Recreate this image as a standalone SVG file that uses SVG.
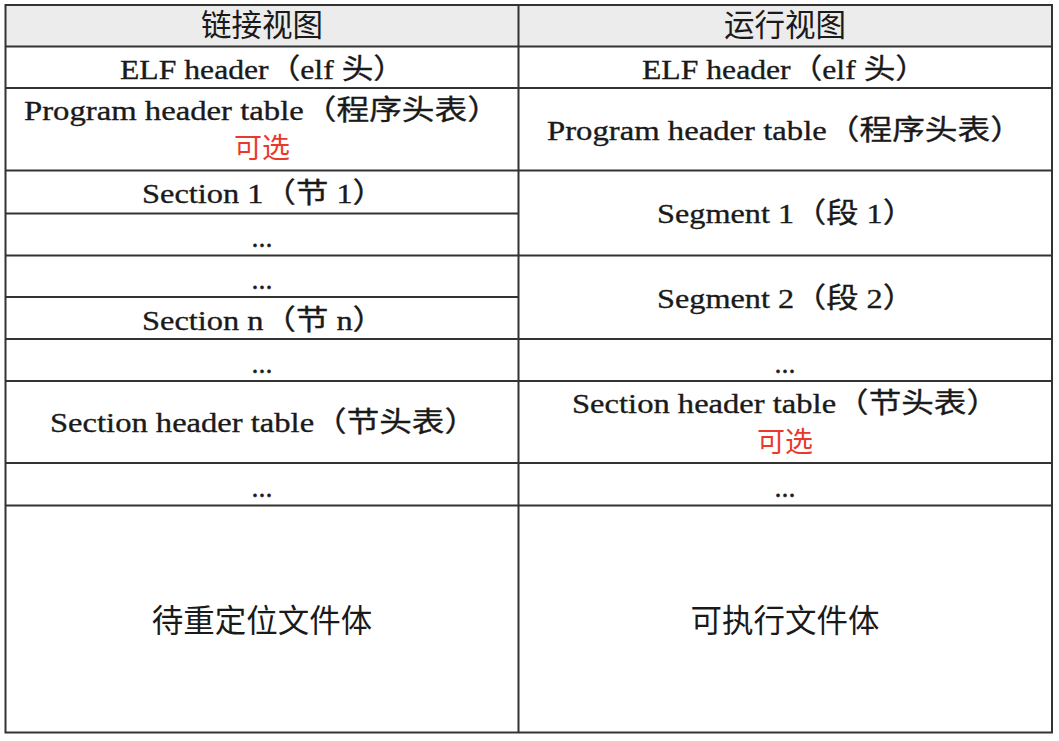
<svg xmlns="http://www.w3.org/2000/svg" width="1059" height="741" viewBox="0 0 1059 741">
<style>
.t{font-family:"Liberation Serif","Noto Sans CJK SC",serif;font-size:28px;fill:#1a1a1a;stroke:#1a1a1a;stroke-width:0.35}
.m{text-anchor:middle}
.h{font-family:"Noto Sans CJK SC",sans-serif;font-size:30.5px;fill:#1a1a1a;text-anchor:middle}
.b{font-family:"Noto Sans CJK SC",sans-serif;font-size:31.5px;fill:#1a1a1a;text-anchor:middle}
.r{font-family:"Noto Sans CJK SC",sans-serif;font-size:28px;fill:#e8392c;text-anchor:middle}
.ln{stroke:#333;stroke-width:2;fill:none}
</style>
<rect x="0" y="0" width="1059" height="741" fill="#fff"/>
<g id="header">
<rect x="5.5" y="5" width="1046.5" height="41.5" fill="#ececec"/>
<text class="h" x="262" y="36">链接视图</text>
<text class="h" x="785" y="36">运行视图</text>
</g>
<g id="elf-header">
<text class="t" x="120" y="79" textLength="285" lengthAdjust="spacingAndGlyphs">ELF header（elf 头）</text>
<text class="t" x="642" y="79" textLength="285" lengthAdjust="spacingAndGlyphs">ELF header（elf 头）</text>
</g>
<g id="program-header-table">
<text class="t" x="24" y="120" textLength="476" lengthAdjust="spacingAndGlyphs">Program header table（程序头表）</text>
<text class="r" x="262" y="158">可选</text>
<text class="t" x="547" y="140" textLength="476" lengthAdjust="spacingAndGlyphs">Program header table（程序头表）</text>
</g>
<g id="section-1"><text class="t" x="142" y="203" textLength="243" lengthAdjust="spacingAndGlyphs">Section 1（节 1）</text></g>
<g id="dots-l1"><text class="t m" x="262" y="247">...</text></g>
<g id="dots-l2"><text class="t m" x="262" y="289">...</text></g>
<g id="section-n"><text class="t" x="142" y="330" textLength="243" lengthAdjust="spacingAndGlyphs">Section n（节 n）</text></g>
<g id="segment-1"><text class="t" x="657" y="223" textLength="258" lengthAdjust="spacingAndGlyphs">Segment 1（段 1）</text></g>
<g id="segment-2"><text class="t" x="657" y="308" textLength="258" lengthAdjust="spacingAndGlyphs">Segment 2（段 2）</text></g>
<g id="dots-3">
<text class="t m" x="262" y="373">...</text>
<text class="t m" x="785" y="373">...</text>
</g>
<g id="section-header-table">
<text class="t" x="50" y="432" textLength="427" lengthAdjust="spacingAndGlyphs">Section header table（节头表）</text>
<text class="t" x="572" y="413" textLength="427" lengthAdjust="spacingAndGlyphs">Section header table（节头表）</text>
<text class="r" x="785" y="452">可选</text>
</g>
<g id="dots-4">
<text class="t m" x="262" y="497">...</text>
<text class="t m" x="785" y="497">...</text>
</g>
<g id="body">
<text class="b" x="262" y="632">待重定位文件体</text>
<text class="b" x="785" y="632">可执行文件体</text>
</g>
<g id="connectors">
<rect class="ln" x="5.5" y="5" width="1046.5" height="727.5"/>
<line class="ln" x1="518.5" y1="5" x2="518.5" y2="732.5"/>
<line class="ln" x1="5.5" y1="46.5" x2="1052" y2="46.5"/>
<line class="ln" x1="5.5" y1="88" x2="1052" y2="88"/>
<line class="ln" x1="5.5" y1="170.5" x2="1052" y2="170.5"/>
<line class="ln" x1="5.5" y1="213.5" x2="518.5" y2="213.5"/>
<line class="ln" x1="5.5" y1="255.5" x2="1052" y2="255.5"/>
<line class="ln" x1="5.5" y1="297" x2="518.5" y2="297"/>
<line class="ln" x1="5.5" y1="339" x2="1052" y2="339"/>
<line class="ln" x1="5.5" y1="381" x2="1052" y2="381"/>
<line class="ln" x1="5.5" y1="463" x2="1052" y2="463"/>
<line class="ln" x1="5.5" y1="505.5" x2="1052" y2="505.5"/>
</g>
</svg>
